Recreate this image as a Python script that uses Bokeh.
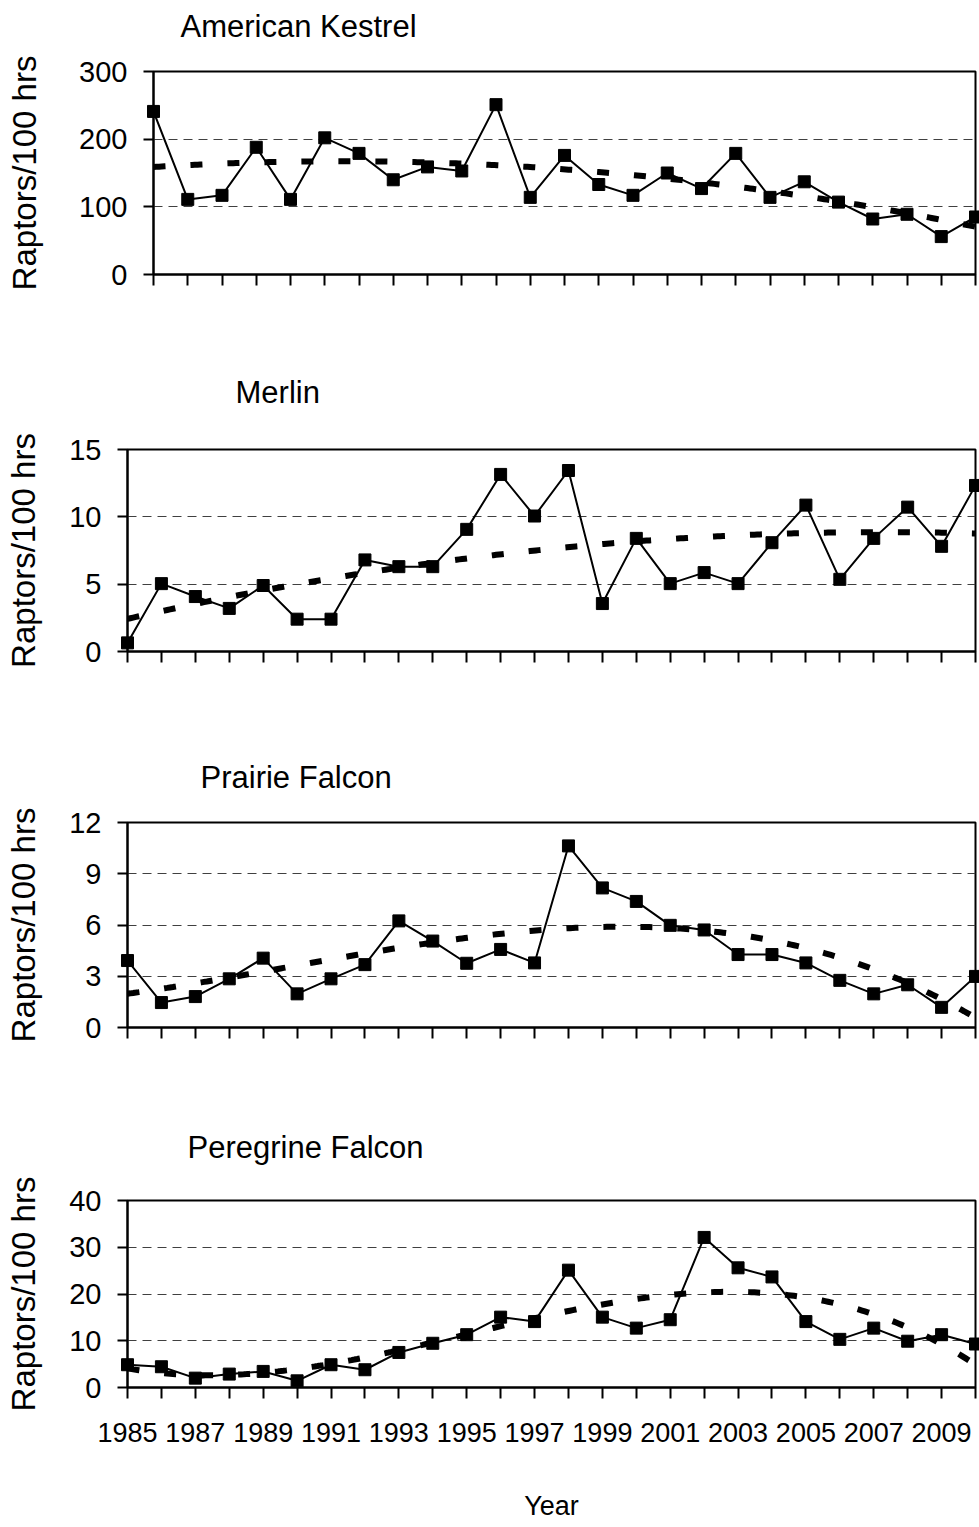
import numpy as np
from bokeh.plotting import figure
from bokeh.models import FixedTicker, Range1d, Title, LinearAxis
from bokeh.embed import file_html
from bokeh.resources import INLINE

# ---- data ----
kestrel_years = list(range(1985, 2010))
kestrel = [241, 111, 117, 188, 111, 202, 179, 140, 159, 153, 251, 114, 176,
           133, 117, 150, 127, 179, 114, 137, 107, 82, 89, 56, 85]

years = list(range(1985, 2011))
merlin = [0.64, 5.04, 4.08, 3.2, 4.9, 2.4, 2.4, 6.8, 6.3, 6.3, 9.07, 13.15, 10.06,
          13.44, 3.56, 8.4, 5.04, 5.86, 5.04, 8.08, 10.87, 5.36, 8.4, 10.72, 7.81, 12.33]
prairie = [3.92, 1.46, 1.81, 2.85, 4.06, 1.97, 2.85, 3.68, 6.24, 5.06, 3.76, 4.57, 3.78,
           10.63, 8.17, 7.38, 5.98, 5.71, 4.27, 4.27, 3.78, 2.76, 1.97, 2.5, 1.18, 2.99]
peregrine = [4.87, 4.44, 2.0, 2.87, 3.44, 1.43, 4.87, 3.8, 7.5, 9.46, 11.3, 15.05, 14.1,
             25.1, 15.05, 12.7, 14.5, 32.1, 25.6, 23.65, 14.1, 10.3, 12.7, 9.9, 11.3, 9.3]

titles = ["American Kestrel", "Merlin", "Prairie Falcon", "Peregrine Falcon"]
y_label = "Raptors/100 hrs"
x_label = "Year"

FONT = "Liberation Sans"


def make_panel(title, xs, ys, order, ymax, ystep, height, top, bottom, left,
               t_dx, t_gap, ylab_standoff, last=False):
    p = figure(width=979, height=height,
               x_range=Range1d(xs[0], xs[-1]), y_range=Range1d(0, ymax),
               output_backend="svg", toolbar_location=None,
               min_border_left=left, min_border_right=4,
               min_border_top=top, min_border_bottom=bottom)
    p.title.visible = False
    p.background_fill_color = "white"
    p.border_fill_color = "white"
    p.outline_line_color = "black"
    p.outline_line_width = 2

    # polynomial trend line (as in the original chart's trendline)
    xs_arr = np.array(xs, dtype=float)
    coef = np.polyfit(xs_arr - xs[0], np.array(ys, dtype=float), order)
    xt = np.linspace(xs[0], xs[-1], 300)
    yt = np.polyval(coef, xt - xs[0])
    p.line(xt, yt, line_color="black", line_width=6, line_dash="12 25")

    p.line(xs, ys, line_color="black", line_width=2)
    p.scatter(xs, ys, marker="square", size=12, fill_color="black",
              line_color="black", level="overlay")

    # axes
    p.xaxis.ticker = FixedTicker(ticks=list(xs))
    if last:
        p.xaxis.major_label_overrides = {y: (str(y) if (y - 1985) % 2 == 0 else "") for y in xs}
        p.xaxis.axis_label = x_label
        p.xaxis.axis_label_text_font = FONT
        p.xaxis.axis_label_text_font_size = "27px"
        p.xaxis.axis_label_text_font_style = "normal"
        p.xaxis.axis_label_standoff = 46
    else:
        p.xaxis.major_label_overrides = {y: "" for y in xs}
    p.xaxis.major_label_text_font = FONT
    p.xaxis.major_label_text_font_size = "27px"
    p.xaxis.major_label_standoff = 24
    p.xaxis.major_tick_out = 11
    p.xaxis.major_tick_in = 0

    p.yaxis.ticker = FixedTicker(ticks=list(range(0, ymax + 1, ystep)))
    p.yaxis.major_label_text_font = FONT
    p.yaxis.major_label_text_font_size = "29px"
    p.yaxis.major_label_standoff = 16
    p.yaxis.major_tick_out = 10
    p.yaxis.major_tick_in = 0
    p.yaxis.axis_label = y_label
    p.yaxis.axis_label_text_font = FONT
    p.yaxis.axis_label_text_font_size = "33px"
    p.yaxis.axis_label_text_font_style = "normal"
    p.yaxis.axis_label_standoff = ylab_standoff

    for ax in (p.xaxis, p.yaxis):
        ax.axis_line_color = "black"
        ax.axis_line_width = 2
        ax.major_tick_line_color = "black"
        ax.major_tick_line_width = 2
        ax.minor_tick_line_color = None
        ax.major_label_text_color = "black"
        ax.axis_label_text_color = "black"

    p.xgrid.visible = False
    p.ygrid.grid_line_color = "#404040"
    p.ygrid.grid_line_width = 1
    p.ygrid.grid_line_dash = "9 6"

    # invisible spacer (blank axis) between the frame and the title
    spacer = LinearAxis(ticker=FixedTicker(ticks=[xs[0]]),
                        major_label_overrides={xs[0]: ""},
                        axis_line_color=None, major_tick_line_color=None,
                        minor_tick_line_color=None, major_tick_out=t_gap,
                        major_tick_in=0, major_label_standoff=0,
                        major_label_text_font_size="1px")
    p.add_layout(spacer, "above")
    p.add_layout(Title(text=title, text_font=FONT, text_font_size="31px",
                       text_font_style="normal", text_color="black",
                       align="left", offset=t_dx, standoff=0,
                       vertical_align="bottom"), "above")
    return p


# frame tops (page px): 71, 449, 822, 1200
p1 = make_panel(titles[0], kestrel_years, kestrel, 2, 300, 100, 360, 71, 86, 153, 27, 28, 33)
p2 = make_panel(titles[1], years, merlin, 2, 15, 5, 385, 89, 94, 127, 108, 40, 24)
p3 = make_panel(titles[2], years, prairie, 3, 12, 3, 375, 77, 93, 127, 73, 28, 24)
p4 = make_panel(titles[3], years, peregrine, 3, 40, 10, 407, 80, 140, 127, 60, 36, 24, last=True)

open("out.html", "w").write(file_html([p1, p2, p3, p4], INLINE))
